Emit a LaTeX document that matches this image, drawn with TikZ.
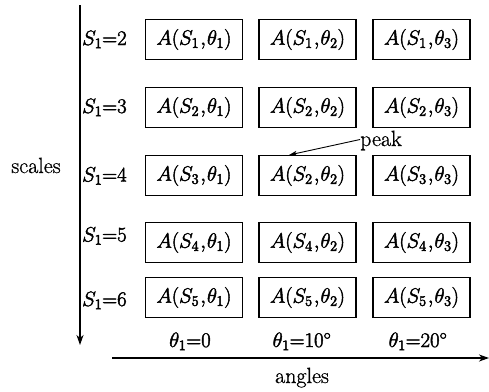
\documentclass[tikz,border=0pt]{standalone}
\usepackage{fontspec}
\newfontfamily\hvtext{Latin Modern Roman}[FakeBold=0.8]
\usetikzlibrary{arrows.meta}
\newcommand\heavy[1]{\special{pdf:literal direct 2 Tr 0.45 w}#1\special{pdf:literal direct 0 Tr}}
\newcommand\Acell[2]{\heavy{$A(S_{#1}\mkern1mu{,}\mkern1mu\theta_{#2})$}}
\newcommand\Slab[1]{\heavy{$S_1{=}#1$}}
\newcommand\Tlab[1]{\heavy{$\theta_1{=}#1$}}
\begin{document}
\begin{tikzpicture}[x=1pt,y=-1pt,
  cell/.style={draw,line width=1.1pt,minimum width=97pt,minimum height=40pt,inner sep=0pt,font=\fontsize{22}{24}\selectfont},
  lbl/.style={inner sep=0pt,font=\fontsize{20}{22}\selectfont},
  word/.style={inner sep=0pt,font=\hvtext\fontsize{22}{24}\selectfont},
  axis/.style={line width=1.2pt,-{Stealth[length=10pt,width=7pt,inset=3pt]}},
  pk/.style={line width=0.9pt,-{Stealth[length=8pt,width=5pt,inset=2pt]}}]
\useasboundingbox (0,0) rectangle (489,391);
% axes
\coordinate (vtop) at (80,5);
\coordinate (vbot) at (80,345);
\coordinate (hl) at (112,358);
\coordinate (hr) at (489,358);
\draw[axis] (vtop) -- (vbot);
\draw[axis] (hl) -- (hr);
% cells
\foreach \r/\y/\sa/\sb/\sc in {1/39.5/1/1/1, 2/107.5/2/2/2, 3/175.5/3/2/3, 4/242.5/4/4/4, 5/297.5/5/5/5}{
  \node[cell] (c\r1) at (194,\y) {\Acell{\sa}{1}};
  \node[cell] (c\r2) at (307.5,\y) {\Acell{\sb}{2}};
  \node[cell] (c\r3) at (421.5,\y) {\Acell{\sc}{3}};
}
% row labels
\node[lbl,anchor=base west] (s2) at (82,45) {\Slab{2}};
\node[lbl,anchor=base west] (s3) at (82,113) {\Slab{3}};
\node[lbl,anchor=base west] (s4) at (82,181.5) {\Slab{4}};
\node[lbl,anchor=base west] (s5) at (82,241.5) {\Slab{5}};
\node[lbl,anchor=base west] (s6) at (82,306) {\Slab{6}};
\node[word,anchor=base] (scales) at (36,173) {scales};
% column labels
\node[lbl,anchor=base] (t1) at (190,347) {\Tlab{0}};
\node[lbl,anchor=base] (t2) at (302,347) {\Tlab{10^\circ}};
\node[lbl,anchor=base] (t3) at (418,347) {\Tlab{20^\circ}};
\node[word,anchor=base] (angles) at (302,383) {angles};
% peak
\node[word,anchor=base west] (peak) at (360,146) {peak};
\coordinate (ptip) at (289,155);
\draw[pk] (peak.west) ++(0,-1) -- (ptip);
\end{tikzpicture}
\end{document}
